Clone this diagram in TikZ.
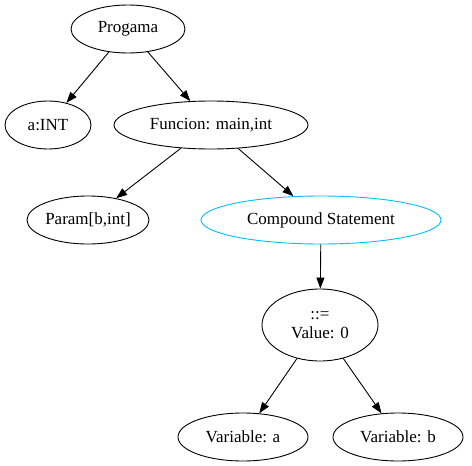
\documentclass[tikz,border=0pt]{standalone}
\usepackage{fontspec}
\setmainfont{Liberation Serif}
\usepackage{tikz}
\usetikzlibrary{shapes.geometric,arrows.meta}
\definecolor{azulcielo}{RGB}{0,191,255}

\begin{document}
\begin{tikzpicture}[x=1pt,y=-1pt,
    nodo/.style={ellipse,draw,line width=.9pt,inner sep=0pt,minimum height=48pt,
      font=\fontsize{17}{19}\selectfont,align=center},
    flecha/.style={line width=.9pt,-{Triangle[length=11pt,width=8pt]}}]
            \useasboundingbox (0,0) rectangle (472,466);

            \node[nodo,minimum width=114pt] (prog) at (128, 29) {Progama};
            \node[nodo,minimum width=86pt] (aint) at (48, 125) {a:INT};
            \node[nodo,minimum width=194pt] (func) at (211, 125) {Funcion: main,int};
            \node[nodo,minimum width=122pt] (param) at (88, 220) {Param[b,int]};
            \node[nodo,minimum width=240pt,draw=azulcielo] (comp) at (321, 220) {Compound Statement};
            \node[nodo,minimum width=116pt,minimum height=72pt] (asig) at (320, 325) {::=\\Value: 0};
            \node[nodo,minimum width=130pt] (vara) at (243, 437) {Variable: a};
            \node[nodo,minimum width=130pt] (varb) at (398, 437) {Variable: b};

            \draw[flecha] (prog) -- (aint);
            \draw[flecha] (prog) -- (func);
            \draw[flecha] (func) -- (param);
            \draw[flecha] (func) -- (comp);
            \draw[flecha] (comp) -- (asig);
            \draw[flecha] (asig) -- (vara);
            \draw[flecha] (asig) -- (varb);

            \end{tikzpicture}
\end{document}
